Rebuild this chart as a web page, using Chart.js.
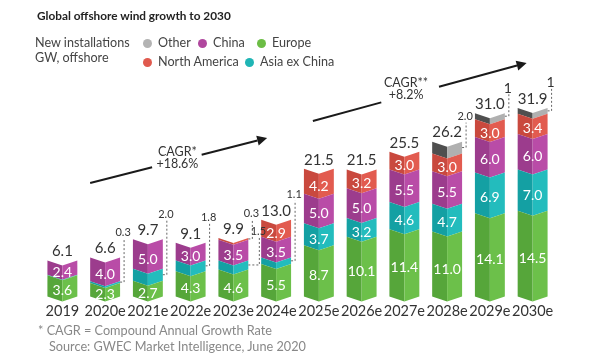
<!DOCTYPE html>
<html>
<head>
<meta charset="utf-8">
<script src="https://cdn.jsdelivr.net/npm/chart.js@4.4.0/dist/chart.umd.min.js"></script>
<style>
  body { margin: 0; background: #fff; font-family: 'Lato', 'DejaVu Sans', sans-serif; }
  #wrap { position: relative; width: 600px; height: 360px; overflow: hidden; }
  #chart { position: absolute; left: 0; top: 0; }
  .txt { position: absolute; white-space: nowrap; color: #333; }
  .title { left: 37px; top: 8px; font-size: 11.8px; font-weight: bold; color: #222; }
  .unit { left: 35px; font-size: 12.6px; color: #444; }
  .leg { font-size: 12.6px; color: #444; }
  .leg i { display: inline-block; width: 9px; height: 9px; border-radius: 50%; margin-right: 6px; vertical-align: -1px; }
  .note { left: 38px; font-size: 12.7px; color: #888; }
</style>
</head>
<body>
<div id="wrap">
  <canvas id="chart" width="600" height="360"></canvas>
  <div class="txt title">Global offshore wind growth to 2030</div>
  <div class="txt unit" style="top:35px">New installations</div>
  <div class="txt unit" style="top:50px">GW, offshore</div>
  <div id="legend"></div>
  <div class="txt note" style="top:322px">* CAGR = Compound Annual Growth Rate</div>
  <div class="txt note" style="top:338px; left:49px">Source: GWEC Market Intelligence, June 2020</div>
</div>
<script>
// data
const years = ['2019', '2020e', '2021e', '2022e', '2023e', '2024e', '2025e', '2026e', '2027e', '2028e', '2029e', '2030e'];
const europe = [3.6, 2.3, 2.7, 4.3, 4.6, 5.5, 8.7, 10.1, 11.4, 11.0, 14.1, 14.5];
const asiaExChina = [0.1, 0.3, 2.0, 1.8, 1.5, 1.1, 3.7, 3.2, 4.6, 4.7, 6.9, 7.0];
const china = [2.4, 4.0, 5.0, 3.0, 3.5, 3.5, 5.0, 5.0, 5.5, 5.5, 6.0, 6.0];
const northAmerica = [0, 0, 0, 0, 0.3, 2.9, 4.2, 3.2, 3.0, 3.0, 3.0, 3.4];
const other = [0, 0, 0, 0, 0, 0, 0, 0, 0, 2.0, 1, 1];
const otherLabels = ['', '', '', '', '', '', '', '', '', '2.0', '1', '1'];
const totals = [6.1, 6.6, 9.7, 9.1, 9.9, 13.0, 21.5, 21.5, 25.5, 26.2, 31.0, 31.9];

// CAGR arrows, in (category index, GW) units
const cagrArrows = [
  { from: [0.65, 19.2], to: [4.79, 26.8], gap: [0.35, 0.63], at: [2.69, 23.4], text: ['CAGR*', '+18.6%'] },
  { from: [5.86, 29.7], to: [10.86, 39.5], gap: [0.32, 0.59], at: [8.04, 35.1], text: ['CAGR**', '+8.2%'] }
];

// face colours: [left (shaded), right (lit)]
const series = [
  { label: 'Europe', data: europe, legend: '#6cbd45', faces: ['#56a63a', '#6cc04a'] },
  { label: 'Asia ex China', data: asiaExChina, legend: '#1fb5b5', faces: ['#14a0a3', '#23bcbd'] },
  { label: 'China', data: china, legend: '#b0479e', faces: ['#9c3c8d', '#b94ca7'] },
  { label: 'North America', data: northAmerica, legend: '#e05a4e', faces: ['#c9493e', '#e25b4f'] },
  { label: 'Other', data: other, legend: '#b3b3b3', faces: ['#4f4f4f', '#b0b0b0'], texts: otherLabels }
];

// legend (html, two rows like the original)
const legendSpots = {
  'Other': [143, 35], 'China': [198, 35], 'Europe': [257, 35],
  'North America': [143, 54], 'Asia ex China': [245, 54]
};
series.forEach(function (s) {
  const d = document.createElement('div');
  d.className = 'txt leg';
  d.style.left = legendSpots[s.label][0] + 'px';
  d.style.top = legendSpots[s.label][1] + 'px';
  d.innerHTML = '<i style="background:' + s.legend + '"></i>' + s.label;
  document.getElementById('legend').appendChild(d);
});

const FONT = "'Lato', 'DejaVu Sans', sans-serif";
const DEPTH = 5;

const fmt = function (v) { return v.toFixed(1); };

// prism-like bars: two faces, chevron edges
const prismBars = {
  id: 'prismBars',
  beforeDatasetDraw: function (chart, args) {
    const ctx = chart.ctx;
    const s = series[args.index];
    args.meta.data.forEach(function (bar, i) {
      if (!s.data[i]) return;
      const p = bar.getProps(['x', 'y', 'base', 'width'], true);
      const x0 = p.x - p.width / 2, x1 = p.x + p.width / 2;
      ctx.save();
      ctx.fillStyle = s.faces[0];
      ctx.beginPath();
      ctx.moveTo(x0, p.y); ctx.lineTo(p.x, p.y + DEPTH);
      ctx.lineTo(p.x, p.base + DEPTH); ctx.lineTo(x0, p.base);
      ctx.closePath(); ctx.fill();
      ctx.fillStyle = s.faces[1];
      ctx.beginPath();
      ctx.moveTo(p.x, p.y + DEPTH); ctx.lineTo(x1, p.y);
      ctx.lineTo(x1, p.base); ctx.lineTo(p.x, p.base + DEPTH);
      ctx.closePath(); ctx.fill();
      ctx.restore();
    });
    return false;
  },
  afterDatasetsDraw: function (chart) {
    const ctx = chart.ctx;
    const yScale = chart.scales.y;
    ctx.save();
    ctx.textAlign = 'center';
    ctx.textBaseline = 'middle';
    years.forEach(function (yr, i) {
      let sum = 0;
      series.forEach(function (s) { sum += s.data[i]; });
      const top = yScale.getPixelForValue(sum);
      const cx = chart.getDatasetMeta(0).data[i].x;
      const totalY = top - 9;
      ctx.fillStyle = '#333';
      ctx.font = '15px ' + FONT;
      ctx.fillText(fmt(totals[i]), cx, totalY);

      let k = 0;
      for (let d = series.length - 1; d >= 0; d--) {
        const s = series[d];
        const v = s.data[i];
        if (!v) continue;
        const p = chart.getDatasetMeta(d).data[i].getProps(['x', 'y', 'base', 'width'], true);
        const label = s.texts ? s.texts[i] : fmt(v);
        if (v >= 2.2 && !s.texts) {
          ctx.fillStyle = '#fff';
          ctx.font = '14px ' + FONT;
          ctx.fillText(label, p.x, (p.y + p.base) / 2 + DEPTH);
        } else if (v >= 0.2) {
          // dotted callout to the right of the bar
          const x1 = p.x + p.width / 2;
          const lx = x1 + 4 + 7 * k;
          const ly = totalY - 16 + 18 * k;
          const my = (p.y + p.base) / 2;
          ctx.strokeStyle = '#666';
          ctx.lineWidth = 1;
          ctx.setLineDash([2, 2]);
          ctx.beginPath();
          ctx.moveTo(x1, my); ctx.lineTo(lx, my); ctx.lineTo(lx, ly + 6);
          ctx.stroke();
          ctx.setLineDash([]);
          ctx.fillStyle = '#333';
          ctx.font = (s.texts && label.length === 1 ? '14px ' : '11px ') + FONT;
          ctx.fillText(label, lx - 1, ly);
          k++;
        }
      }
    });
    ctx.restore();
  },
  afterDraw: function (chart) {
    const ctx = chart.ctx;
    const xs = chart.scales.x, ys = chart.scales.y;
    ctx.save();
    cagrArrows.forEach(function (a) {
      const ax = xs.getPixelForValue(a.from[0]), ay = ys.getPixelForValue(a.from[1]);
      const bx = xs.getPixelForValue(a.to[0]), by = ys.getPixelForValue(a.to[1]);
      const pt = function (t) { return [ax + (bx - ax) * t, ay + (by - ay) * t]; };
      const g0 = pt(a.gap[0]), g1 = pt(a.gap[1]);
      const ang = Math.atan2(by - ay, bx - ax);
      const hx = bx - 10 * Math.cos(ang), hy = by - 10 * Math.sin(ang);
      ctx.strokeStyle = '#1a1a1a';
      ctx.fillStyle = '#1a1a1a';
      ctx.lineWidth = 2;
      ctx.beginPath();
      ctx.moveTo(ax, ay); ctx.lineTo(g0[0], g0[1]);
      ctx.moveTo(g1[0], g1[1]); ctx.lineTo(hx, hy);
      ctx.stroke();
      ctx.beginPath();
      ctx.moveTo(bx, by);
      ctx.lineTo(hx + 5 * Math.sin(ang), hy - 5 * Math.cos(ang));
      ctx.lineTo(hx - 5 * Math.sin(ang), hy + 5 * Math.cos(ang));
      ctx.closePath(); ctx.fill();

      const tx = xs.getPixelForValue(a.at[0]), ty = ys.getPixelForValue(a.at[1]);
      ctx.fillStyle = '#333';
      ctx.font = '12.5px ' + FONT;
      ctx.textAlign = 'center';
      ctx.textBaseline = 'middle';
      ctx.fillText(a.text[0], tx, ty - 6);
      ctx.fillText(a.text[1], tx, ty + 6);
    });
    ctx.restore();
  }
};

new Chart(document.getElementById('chart'), {
  type: 'bar',
  data: {
    labels: years,
    datasets: series.map(function (s) {
      return { label: s.label, data: s.data, backgroundColor: s.faces[1], borderWidth: 0 };
    })
  },
  options: {
    responsive: false,
    animation: false,
    barPercentage: 0.7,
    categoryPercentage: 1,
    layout: { padding: { top: 60, left: 41, right: 46, bottom: 34 } },
    plugins: { legend: { display: false }, tooltip: { enabled: false } },
    scales: {
      x: {
        stacked: true,
        grid: { display: false, drawTicks: false },
        border: { display: false },
        ticks: { color: '#333', font: { size: 14.5, family: FONT }, padding: 6, maxRotation: 0, minRotation: 0, autoSkip: false }
      },
      y: { stacked: true, display: false, min: 0, max: 40 }
    }
  },
  plugins: [prismBars]
});
</script>
</body>
</html>
